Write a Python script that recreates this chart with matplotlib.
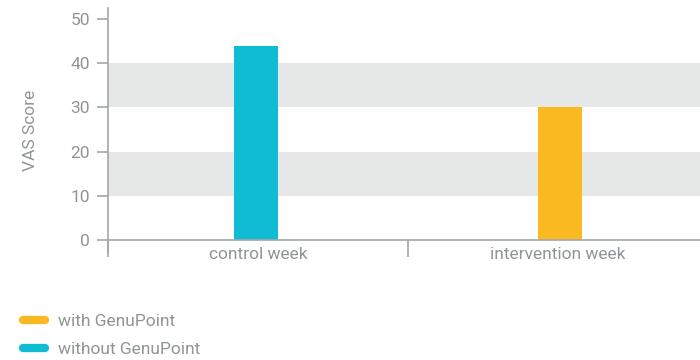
import matplotlib.pyplot as plt
from matplotlib.lines import Line2D

plt.rcParams['font.family'] = ['Roboto', 'DejaVu Sans']

# Data
categories = ['control week', 'intervention week']
series_names = ['with GenuPoint', 'without GenuPoint']
with_genupoint = [None, 30]
without_genupoint = [44, None]
y_ticks = [0, 10, 20, 30, 40, 50]

c_with = '#fbb921'
c_without = '#10bcd4'
grey = '#8f9597'
axis_grey = '#a3a7a9'

fig = plt.figure(figsize=(7, 3.6), dpi=100)
ax = fig.add_axes([108 / 700, 0.3, 592 / 700, 244 / 360])

# grey bands
ax.axhspan(10, 20, color='#e6e7e7', zorder=0, lw=0)
ax.axhspan(30, 40, color='#e6e7e7', zorder=0, lw=0)

bar_w = 0.147
for i, v in enumerate(without_genupoint):
    if v is not None:
        ax.bar(i - 0.007, v, width=bar_w, color=c_without, zorder=2)
for i, v in enumerate(with_genupoint):
    if v is not None:
        ax.bar(i + 0.007, v, width=bar_w, color=c_with, zorder=2)

ax.set_xlim(-0.5, 1.473)
ax.set_ylim(-2.7, 52.5)

ax.spines['top'].set_visible(False)
ax.spines['right'].set_visible(False)
ax.spines['bottom'].set_position(('data', 0))
for s in ['left', 'bottom']:
    ax.spines[s].set_color(axis_grey)
    ax.spines[s].set_linewidth(1.2)
    ax.spines[s].set_zorder(3)

ax.set_yticks(y_ticks)
ax.tick_params(axis='y', length=8, color=axis_grey, labelcolor=grey,
               labelsize=12.5, pad=5, width=1.2)
ax.set_xticks(range(len(categories)))
ax.set_xticklabels(categories)
ax.set_xticks([-0.5, 0.5], minor=True)
ax.tick_params(axis='x', which='major', length=0, labelcolor=grey,
               labelsize=12.5, pad=5)
ax.tick_params(axis='x', which='minor', length=12, color=axis_grey, width=1.2)

ax.set_ylabel('VAS Score', color=grey, fontsize=12.5)
ax.yaxis.set_label_coords(-0.118, 0.5)

handles = [Line2D([], [], color=c_with, lw=6, solid_capstyle='round'),
           Line2D([], [], color=c_without, lw=6, solid_capstyle='round')]
leg = fig.legend(handles, series_names, loc='lower left',
                 bbox_to_anchor=(0.01, -0.035), frameon=False,
                 handlelength=1.3, handletextpad=0.75, labelspacing=0.72,
                 fontsize=12.5)
for t in leg.get_texts():
    t.set_color(grey)

fig.savefig('out.png', dpi=100)
